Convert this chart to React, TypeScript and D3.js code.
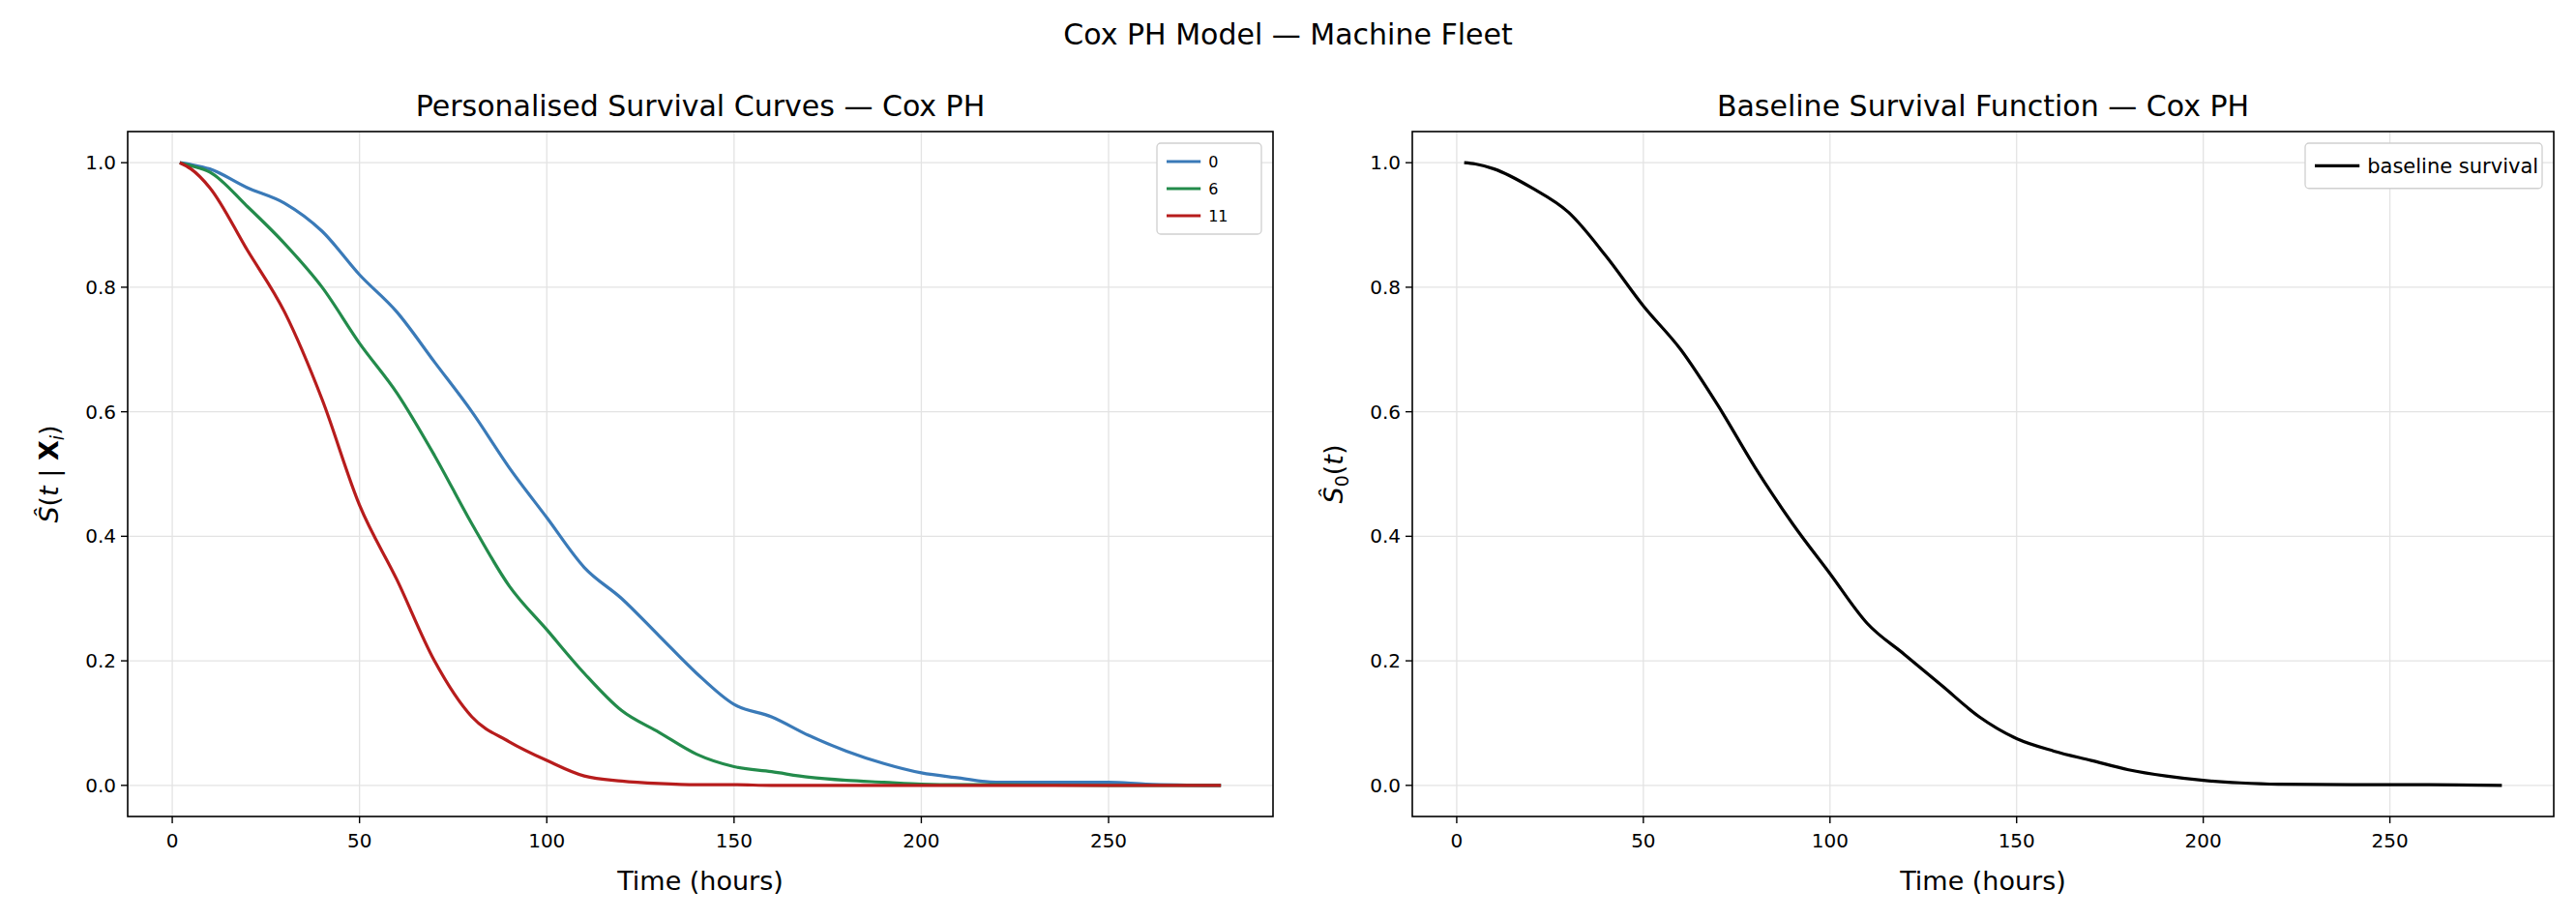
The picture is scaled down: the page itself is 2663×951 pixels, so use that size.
import React from 'react';
import * as d3 from 'd3';

const times = [2, 5, 10, 20, 30, 40, 50, 60, 70, 80, 90, 100, 110, 120, 130, 140, 150, 160, 170, 180, 190, 200, 210, 220, 250, 260, 280];
const blue = [1.0, 0.997, 0.99, 0.96, 0.935, 0.89, 0.82, 0.76, 0.68, 0.60, 0.51, 0.43, 0.35, 0.30, 0.24, 0.18, 0.13, 0.11, 0.08, 0.055, 0.035, 0.02, 0.012, 0.005, 0.005, 0.002, 0.0];
const green = [1.0, 0.995, 0.985, 0.93, 0.87, 0.80, 0.71, 0.63, 0.53, 0.42, 0.32, 0.25, 0.18, 0.12, 0.085, 0.05, 0.03, 0.022, 0.013, 0.008, 0.005, 0.002, 0.001, 0.001, 0.0, 0.0, 0.0];
const red = [1.0, 0.99, 0.96, 0.86, 0.76, 0.62, 0.45, 0.33, 0.20, 0.11, 0.07, 0.04, 0.015, 0.007, 0.003, 0.001, 0.001, 0.0, 0.0, 0.0, 0.0, 0.0, 0.0, 0.0, 0.0, 0.0, 0.0];
const baseline = [1.0, 0.998, 0.99, 0.96, 0.92, 0.85, 0.77, 0.70, 0.61, 0.51, 0.42, 0.34, 0.26, 0.21, 0.16, 0.11, 0.075, 0.055, 0.04, 0.025, 0.015, 0.008, 0.004, 0.002, 0.001, 0.001, 0.0];
const xTicks = [0, 50, 100, 150, 200, 250];
const yTicks = [0, 0.2, 0.4, 0.6, 0.8, 1.0];

const W = 2663, H = 951;
const top = 136, bottom = 844;
const font = 'DejaVu Sans, sans-serif';

type S = { label: string; color: string; vals: number[] };

function Panel({ left, right, series, title, ylab, legendW, legendFont }: { left: number; right: number; series: S[]; title: string; ylab: React.ReactNode; legendW: number; legendFont: number }) {
  const x = d3.scaleLinear().domain([2 - 13.9, 280 + 13.9]).range([left, right]);
  const y = d3.scaleLinear().domain([-0.05, 1.05]).range([bottom, top]);
  const line = d3.line<number>().x((_, i) => x(times[i])).y(d => y(d)).curve(d3.curveMonotoneX);
  const lh = legendFont * 1.75;
  const lx = right - legendW - 12, ly = top + 12;
  return (
    <g fontFamily={font}>
      {xTicks.map(t => <line key={'gx' + t} x1={x(t)} x2={x(t)} y1={top} y2={bottom} stroke="#e3e3e3" strokeWidth={1.3} />)}
      {yTicks.map(t => <line key={'gy' + t} x1={left} x2={right} y1={y(t)} y2={y(t)} stroke="#e3e3e3" strokeWidth={1.3} />)}
      {series.map(s => <path key={s.label} d={line(s.vals) || ''} fill="none" stroke={s.color} strokeWidth={3.2} />)}
      <rect x={left} y={top} width={right - left} height={bottom - top} fill="none" stroke="#000" strokeWidth={1.6} />
      {xTicks.map(t => (
        <g key={'tx' + t}>
          <line x1={x(t)} x2={x(t)} y1={bottom} y2={bottom + 7} stroke="#000" strokeWidth={1.4} />
          <text x={x(t)} y={bottom + 32} textAnchor="middle" fontSize={20}>{t}</text>
        </g>
      ))}
      {yTicks.map(t => (
        <g key={'ty' + t}>
          <line x1={left - 7} x2={left} y1={y(t)} y2={y(t)} stroke="#000" strokeWidth={1.4} />
          <text x={left - 12} y={y(t) + 7} textAnchor="end" fontSize={20}>{t.toFixed(1)}</text>
        </g>
      ))}
      <text x={(left + right) / 2} y={bottom + 76} textAnchor="middle" fontSize={27}>Time (hours)</text>
      <text x={(left + right) / 2} y={top - 16} textAnchor="middle" fontSize={30}>{title}</text>
      <text transform={`translate(${left - 72},${(top + bottom) / 2}) rotate(-90)`} textAnchor="middle" fontSize={27}>{ylab}</text>
      <rect x={lx} y={ly} width={legendW} height={series.length * lh + 10} fill="#fff" stroke="#d0d0d0" strokeWidth={1.3} rx={4} />
      {series.map((s, i) => (
        <g key={'lg' + s.label}>
          <line x1={lx + 10} x2={lx + 10 + legendFont * 2.2} y1={ly + 5 + lh * (i + 0.5)} y2={ly + 5 + lh * (i + 0.5)} stroke={s.color} strokeWidth={3.2} />
          <text x={lx + 18 + legendFont * 2.2} y={ly + 5 + lh * (i + 0.5) + legendFont * 0.36} fontSize={legendFont}>{s.label}</text>
        </g>
      ))}
    </g>
  );
}

export default function App() {
  return (
    <svg width={W} height={H} style={{ display: 'block', margin: -8 }}>
      <rect width={W} height={H} fill="#fff" />
      <text x={W / 2} y={46} textAnchor="middle" fontSize={30} fontFamily={font}>Cox PH Model — Machine Fleet</text>
      <Panel left={132} right={1316} title="Personalised Survival Curves — Cox PH" legendW={108} legendFont={16}
        series={[{ label: '0', color: '#3a7ab8', vals: blue }, { label: '6', color: '#238b4b', vals: green }, { label: '11', color: '#b71c1c', vals: red }]}
        ylab={<><tspan fontStyle="italic">Ŝ</tspan>(<tspan fontStyle="italic">t</tspan> | <tspan fontWeight="bold">X</tspan><tspan fontStyle="italic" fontSize={19} dy={6}>i</tspan><tspan dy={-6}>)</tspan></>} />
      <Panel left={1460} right={2640} title="Baseline Survival Function — Cox PH" legendW={245} legendFont={21}
        series={[{ label: 'baseline survival', color: '#000', vals: baseline }]}
        ylab={<><tspan fontStyle="italic">Ŝ</tspan><tspan fontSize={19} dy={6}>0</tspan><tspan dy={-6}>(</tspan><tspan fontStyle="italic">t</tspan>)</>} />
    </svg>
  );
}
